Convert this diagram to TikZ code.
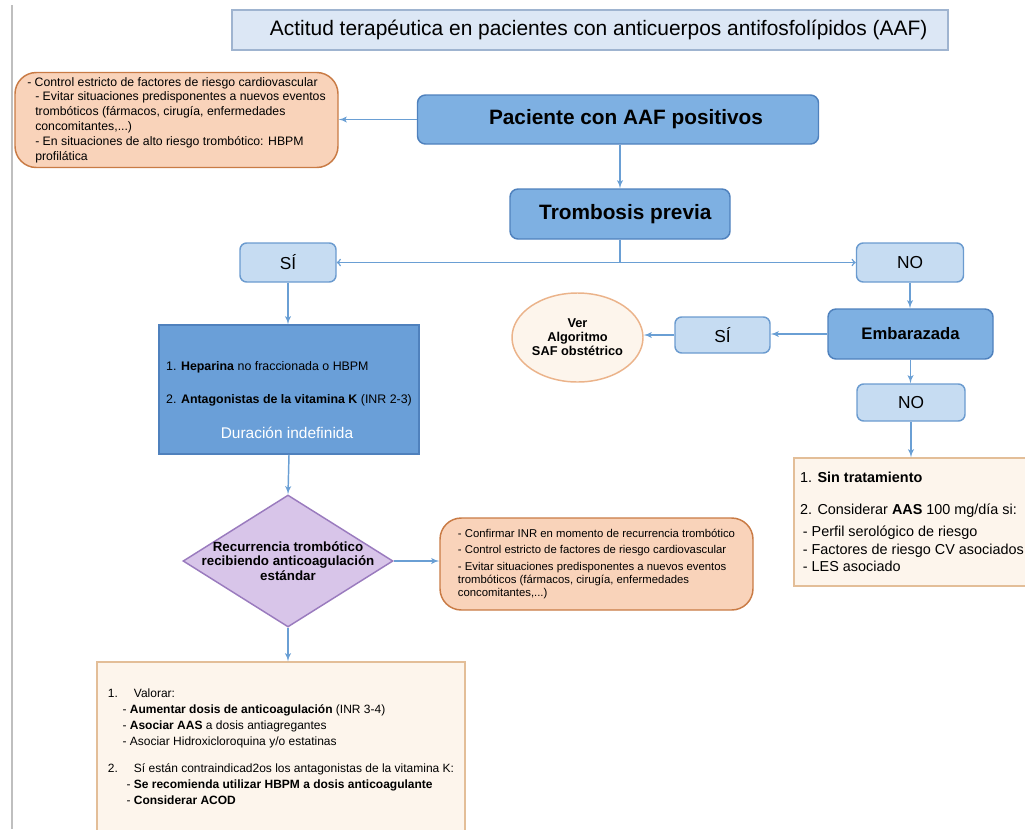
\documentclass[tikz,border=0pt]{standalone}
\usepackage{fontspec}
\setmainfont{Liberation Sans}
\usetikzlibrary{arrows,shapes.geometric}

\definecolor{titlefill}{HTML}{DCE7F5}
\definecolor{titleborder}{HTML}{9FB4D0}
\definecolor{mainfill}{HTML}{7EB0E2}
\definecolor{mainborder}{HTML}{4F81BD}
\definecolor{tfill}{HTML}{6A9FD8}
\definecolor{ansfill}{HTML}{C6DCF2}
\definecolor{ansborder}{HTML}{6B9BCF}
\definecolor{advfill}{HTML}{F9D3BA}
\definecolor{advborder}{HTML}{C97B45}
\definecolor{planfill}{HTML}{FDF5EC}
\definecolor{planborder}{HTML}{E3BE98}
\definecolor{safborder}{HTML}{EBB38A}
\definecolor{recurfill}{HTML}{D8C5E9}
\definecolor{recurborder}{HTML}{9A7BBE}
\definecolor{arrowblue}{HTML}{6A9FD4}

\begin{document}
\begin{tikzpicture}
	[x=0.75pt,y=-0.75pt,
	every node/.style={inner sep=2pt,line width=1.1pt},
	edge/.style={->,> = latex',draw=arrowblue,line width=1.1pt},
	twoway/.style={<->,> = to,draw=arrowblue,line width=1.1pt},
	title/.style={rectangle,draw=titleborder,fill=titlefill,font=\fontsize{15.7}{18}\selectfont},
	main/.style={rectangle,rounded corners=6pt,draw=mainborder,fill=mainfill,font=\bfseries\fontsize{15.6}{18}\selectfont},
	answer/.style={rectangle,rounded corners=5pt,draw=ansborder,fill=ansfill,font=\fontsize{13}{15}\selectfont},
	advice/.style={rectangle,rounded corners=16pt,draw=advborder,fill=advfill,align=left},
	plan/.style={rectangle,draw=planborder,fill=planfill,align=left}]
	\useasboundingbox (0,0) rectangle (1025,829);
	\clip (0,0) rectangle (1025,829);
	\draw[black!25,line width=1pt] (12,5) -- (12,829);
	
	\node[title,minimum width=537pt,minimum height=30pt] (title) at (590,30) {\hspace*{13pt}Actitud terapéutica en pacientes con anticuerpos antifosfolípidos (AAF)};
	
	\node[main,minimum width=300.75pt,minimum height=36.75pt] (paciente) at (618,119.5) {\hspace*{12pt}Paciente con AAF positivos};
	\node[advice,minimum width=242.25pt,minimum height=71.25pt,font=\fontsize{9.2}{11.1}\selectfont] (risk) at (176.5,120)
	{- Control estricto de factores de riesgo cardiovascular\\
	\hspace*{6pt}- Evitar situaciones predisponentes a nuevos eventos\\
	\hspace*{6pt}trombóticos (fármacos, cirugía, enfermedades\\
	\hspace*{6pt}concomitantes,...)\\
	\hspace*{6pt}- En situaciones de alto riesgo trombótico: HBPM\\
	\hspace*{6pt}profilática};
	\node[main,minimum width=165pt,minimum height=37.5pt] (trombosis) at (620,214) {\hspace*{8pt}Trombosis previa};
	
	\node[answer,minimum width=72pt,minimum height=29.25pt] (si1) at (288,262.5) {SÍ};
	\node[answer,minimum width=80.25pt,minimum height=29.25pt] (no1) at (910,262.5) {NO};
	
	% left branch
	\node[rectangle,draw=mainborder,fill=tfill,minimum width=195pt,minimum height=96.75pt,
	align=left,font=\fontsize{9.3}{11.5}\selectfont] (tto) at (289,389.5)
	{\rule{0pt}{23pt}1. \textbf{Heparina} no fraccionada o HBPM\\[13pt]
	2. \textbf{Antagonistas de la vitamina K} (INR 2-3)\\[15pt]
	\hspace*{41pt}{\color{white}\fontsize{11.6}{14}\selectfont Duración indefinida}};
	\node[diamond,draw=recurborder,fill=recurfill,minimum width=157.5pt,minimum height=99pt,
	label={[align=center,font=\bfseries\fontsize{10}{10.9}\selectfont]center:Recurrencia trombótico\\recibiendo anticoagulación\\estándar}] (recur) at (288,561) {};
	\node[advice,minimum width=234.75pt,minimum height=69pt,font=\fontsize{8.5}{9.8}\selectfont] (nota) at (596.5,564)
	{- Confirmar INR en momento de recurrencia trombótico\\[2.6pt]
	- Control estricto de factores de riesgo cardiovascular\\[2.6pt]
	- Evitar situaciones predisponentes a nuevos eventos\\
	trombóticos (fármacos, cirugía, enfermedades\\
	concomitantes,...)};
	\node[plan,minimum width=276pt,minimum height=127.5pt,font=\fontsize{9}{12}\selectfont] (valorar) at (281,747)
	{1.\hspace*{12pt}Valorar:\\
	\hspace*{11pt}- \textbf{Aumentar dosis de anticoagulación} (INR 3-4)\\
	\hspace*{11pt}- \textbf{Asociar AAS} a dosis antiagregantes\\
	\hspace*{11pt}- Asociar Hidroxicloroquina y/o estatinas\\[8pt]
	2.\hspace*{12pt}Sí están contraindicad2os los antagonistas de la vitamina K:\\
	\hspace*{14pt}- \textbf{Se recomienda utilizar HBPM a dosis anticoagulante}\\
	\hspace*{14pt}- \textbf{Considerar ACOD}};
	
	% right branch
	\node[main,minimum width=123.75pt,minimum height=37.5pt,font=\bfseries\fontsize{12.5}{15}\selectfont] (embarazada) at (910.5,334) {Embarazada};
	\node[answer,minimum width=71.25pt,minimum height=27pt] (si2) at (722.5,335) {SÍ};
	\node[ellipse,draw=safborder,fill=planfill,minimum width=98.25pt,minimum height=66.75pt,inner sep=0pt,
	align=center,font=\bfseries\fontsize{9.6}{10.5}\selectfont] (saf) at (577.5,337.5) {Ver\\Algoritmo\\SAF obstétrico};
	\node[answer,minimum width=81pt,minimum height=27.75pt] (no2) at (911,402.5) {NO};
	\node[plan,minimum width=177pt,minimum height=96pt,font=\fontsize{10.8}{13.1}\selectfont] (notto) at (912,522)
	{1. \textbf{Sin tratamiento}\\[11pt]
	2. Considerar \textbf{AAS} 100 mg/día si:\\[3.4pt]
	\hspace*{2pt}- Perfil serológico de riesgo\\
	\hspace*{2pt}- Factores de riesgo CV asociados\\
	\hspace*{2pt}- LES asociado};
	
	\draw[edge] (paciente.west) -- (paciente.west -| risk.east);
	\draw[edge] (paciente.south -| trombosis.north) -- (trombosis.north);
	\draw[arrowblue,line width=1.1pt] (trombosis.south) -- (trombosis.south |- si1.east);
	\draw[twoway] (si1.east) -- (no1.west);
	\draw[edge] (si1.south) -- (tto.north -| si1.south);
	\draw[edge] (tto.south) -- (recur.north);
	\draw[edge] (recur.east) -- (recur.east -| nota.west);
	\draw[edge] (recur.south) -- (valorar.north -| recur.south);
	\draw[edge] (no1.south) -- (embarazada.north -| no1.south);
	\draw[edge] (embarazada.west) -- (embarazada.west -| si2.east);
	\draw[edge] (si2.west) -- (si2.west -| saf.east);
	\draw[edge] (embarazada.south) -- (embarazada.south |- no2.north);
	\draw[edge] (no2.south) -- (no2.south |- notto.north);
\end{tikzpicture}
\end{document}
